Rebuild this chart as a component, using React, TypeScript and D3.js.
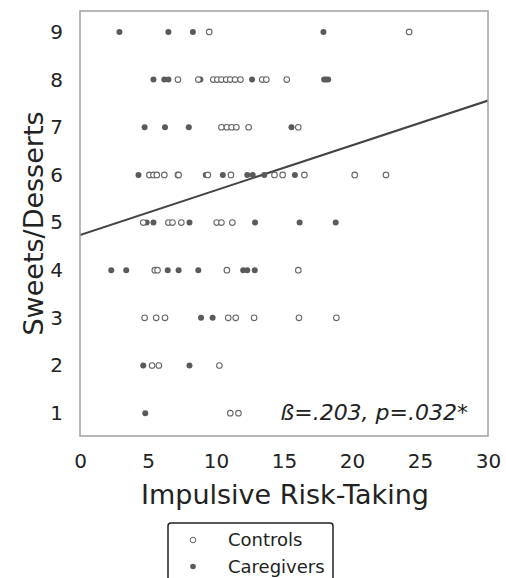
import React, { useEffect, useRef } from 'react';
import * as d3 from 'd3';

// ratings per group, x = impulsive risk-taking score
const controls = [
  { x: 9.5, y: 9 }, { x: 24.2, y: 9 },
  { x: 7.2, y: 8 }, { x: 8.7, y: 8 }, { x: 9.8, y: 8 }, { x: 10.1, y: 8 }, { x: 10.4, y: 8 },
  { x: 10.75, y: 8 }, { x: 11.05, y: 8 }, { x: 11.4, y: 8 }, { x: 11.8, y: 8 }, { x: 13.4, y: 8 },
  { x: 13.7, y: 8 }, { x: 15.2, y: 8 },
  { x: 10.4, y: 7 }, { x: 10.8, y: 7 }, { x: 11.15, y: 7 }, { x: 11.5, y: 7 }, { x: 12.4, y: 7 },
  { x: 16.05, y: 7 },
  { x: 5.1, y: 6 }, { x: 5.4, y: 6 }, { x: 5.65, y: 6 }, { x: 6.2, y: 6 }, { x: 7.2, y: 6 },
  { x: 7.25, y: 6 }, { x: 9.4, y: 6 }, { x: 11.1, y: 6 }, { x: 14.3, y: 6 }, { x: 14.9, y: 6 },
  { x: 16.5, y: 6 }, { x: 20.2, y: 6 }, { x: 22.5, y: 6 },
  { x: 4.65, y: 5 }, { x: 6.5, y: 5 }, { x: 6.8, y: 5 }, { x: 7.45, y: 5 }, { x: 10.05, y: 5 },
  { x: 10.4, y: 5 }, { x: 11.2, y: 5 },
  { x: 5.5, y: 4 }, { x: 5.7, y: 4 }, { x: 10.8, y: 4 }, { x: 16.05, y: 4 },
  { x: 4.75, y: 3 }, { x: 5.6, y: 3 }, { x: 6.25, y: 3 }, { x: 10.9, y: 3 }, { x: 11.45, y: 3 },
  { x: 12.8, y: 3 }, { x: 16.1, y: 3 }, { x: 18.85, y: 3 },
  { x: 5.3, y: 2 }, { x: 5.8, y: 2 }, { x: 10.25, y: 2 },
  { x: 11.05, y: 1 }, { x: 11.65, y: 1 },
];

const caregivers = [
  { x: 2.9, y: 9 }, { x: 6.5, y: 9 }, { x: 8.3, y: 9 }, { x: 17.9, y: 9 },
  { x: 5.4, y: 8 }, { x: 6.2, y: 8 }, { x: 6.5, y: 8 }, { x: 8.85, y: 8 }, { x: 12.65, y: 8 },
  { x: 17.95, y: 8 }, { x: 18.1, y: 8 }, { x: 18.25, y: 8 },
  { x: 4.75, y: 7 }, { x: 6.25, y: 7 }, { x: 8.0, y: 7 }, { x: 15.55, y: 7 },
  { x: 4.3, y: 6 }, { x: 9.25, y: 6 }, { x: 10.5, y: 6 }, { x: 12.3, y: 6 }, { x: 12.7, y: 6 },
  { x: 13.55, y: 6 }, { x: 15.8, y: 6 },
  { x: 4.9, y: 5 }, { x: 5.4, y: 5 }, { x: 8.05, y: 5 }, { x: 12.87, y: 5 }, { x: 16.15, y: 5 },
  { x: 18.8, y: 5 },
  { x: 2.3, y: 4 }, { x: 3.4, y: 4 }, { x: 6.45, y: 4 }, { x: 7.25, y: 4 }, { x: 8.7, y: 4 },
  { x: 12.0, y: 4 }, { x: 12.3, y: 4 }, { x: 12.85, y: 4 },
  { x: 8.9, y: 3 }, { x: 9.75, y: 3 },
  { x: 4.65, y: 2 }, { x: 8.05, y: 2 },
  { x: 4.8, y: 1 },
];

const xTicks = [0, 5, 10, 15, 20, 25, 30];
const yTicks = [1, 2, 3, 4, 5, 6, 7, 8, 9];
const fit = { intercept: 4.74, slope: 0.094 };
const statText = 'ß=.203, p=.032*';
const legendLabels = ['Controls', 'Caregivers'];

const App = () => {
  const ref = useRef<SVGSVGElement>(null);

  useEffect(() => {
    const W = 506, H = 578;
    const svg = d3.select(ref.current);
    svg.selectAll('*').remove();

    const left = 80, right = 488, top = 11, bottom = 436;
    const x = d3.scaleLinear().domain([0, 30]).range([left, right]);
    const y = d3.scaleLinear().domain([0.52, 9.44]).range([bottom, top]);
    const font = '"DejaVu Sans", sans-serif';

    svg.append('rect').attr('width', W).attr('height', H).attr('fill', '#fff');

    svg.append('clipPath').attr('id', 'plotclip')
      .append('rect').attr('x', left).attr('y', top)
      .attr('width', right - left).attr('height', bottom - top);

    // regression line
    const line = d3.line<number>().x(d => x(d)).y(d => y(fit.intercept + fit.slope * d));
    svg.append('path')
      .datum([0, 30])
      .attr('d', line)
      .attr('clip-path', 'url(#plotclip)')
      .attr('fill', 'none')
      .attr('stroke', '#444')
      .attr('stroke-width', 2);

    svg.append('g').selectAll('circle')
      .data(caregivers).join('circle')
      .attr('cx', d => x(d.x)).attr('cy', d => y(d.y)).attr('r', 3)
      .attr('fill', '#5a5a5a');

    svg.append('g').selectAll('circle')
      .data(controls).join('circle')
      .attr('cx', d => x(d.x)).attr('cy', d => y(d.y)).attr('r', 2.8)
      .attr('fill', '#fff').attr('stroke', '#666').attr('stroke-width', 1.1);

    // frame
    svg.append('rect')
      .attr('x', left).attr('y', top)
      .attr('width', right - left).attr('height', bottom - top)
      .attr('fill', 'none').attr('stroke', '#a0a0a0').attr('stroke-width', 1.5);

    // axes (labels only, no tick marks)
    const xAxis = svg.append('g')
      .attr('transform', `translate(0,${bottom})`)
      .call(d3.axisBottom(x).tickValues(xTicks).tickSize(0).tickPadding(18));
    xAxis.select('.domain').remove();
    xAxis.selectAll('text').attr('font-size', 20).attr('font-family', font).attr('fill', '#222');

    const yAxis = svg.append('g')
      .attr('transform', `translate(${left},0)`)
      .call(d3.axisLeft(y).tickValues(yTicks).tickSize(0).tickPadding(17));
    yAxis.select('.domain').remove();
    yAxis.selectAll('text').attr('font-size', 20).attr('font-family', font).attr('fill', '#222');

    svg.append('text')
      .attr('x', (left + right) / 2 + 1).attr('y', 504)
      .attr('text-anchor', 'middle')
      .attr('font-size', 27).attr('font-family', font).attr('fill', '#222')
      .text('Impulsive Risk-Taking');

    svg.append('text')
      .attr('transform', `translate(43,${(top + bottom) / 2}) rotate(-90)`)
      .attr('text-anchor', 'middle')
      .attr('font-size', 27).attr('font-family', font).attr('fill', '#222')
      .text('Sweets/Desserts');

    svg.append('text')
      .attr('x', 468).attr('y', 420)
      .attr('text-anchor', 'end')
      .attr('font-size', 22).attr('font-style', 'italic')
      .attr('font-family', font).attr('fill', '#222')
      .text(statText);

    // legend
    const lg = svg.append('g');
    lg.append('rect')
      .attr('x', 168).attr('y', 523).attr('width', 165).attr('height', 70).attr('rx', 3)
      .attr('fill', '#fff').attr('stroke', '#222').attr('stroke-width', 1.5);
    legendLabels.forEach((label, i) => {
      const cy = 540 + i * 26.5;
      lg.append('circle')
        .attr('cx', 193).attr('cy', cy).attr('r', 2.8)
        .attr('fill', i === 0 ? '#fff' : '#5a5a5a')
        .attr('stroke', i === 0 ? '#666' : 'none');
      lg.append('text')
        .attr('x', 228).attr('y', cy + 6)
        .attr('font-size', 18).attr('font-family', font).attr('fill', '#222')
        .text(label);
    });
  }, []);

  return <svg ref={ref} width={506} height={578} style={{ position: 'absolute', left: 0, top: 0 }} />;
};

export default App;
